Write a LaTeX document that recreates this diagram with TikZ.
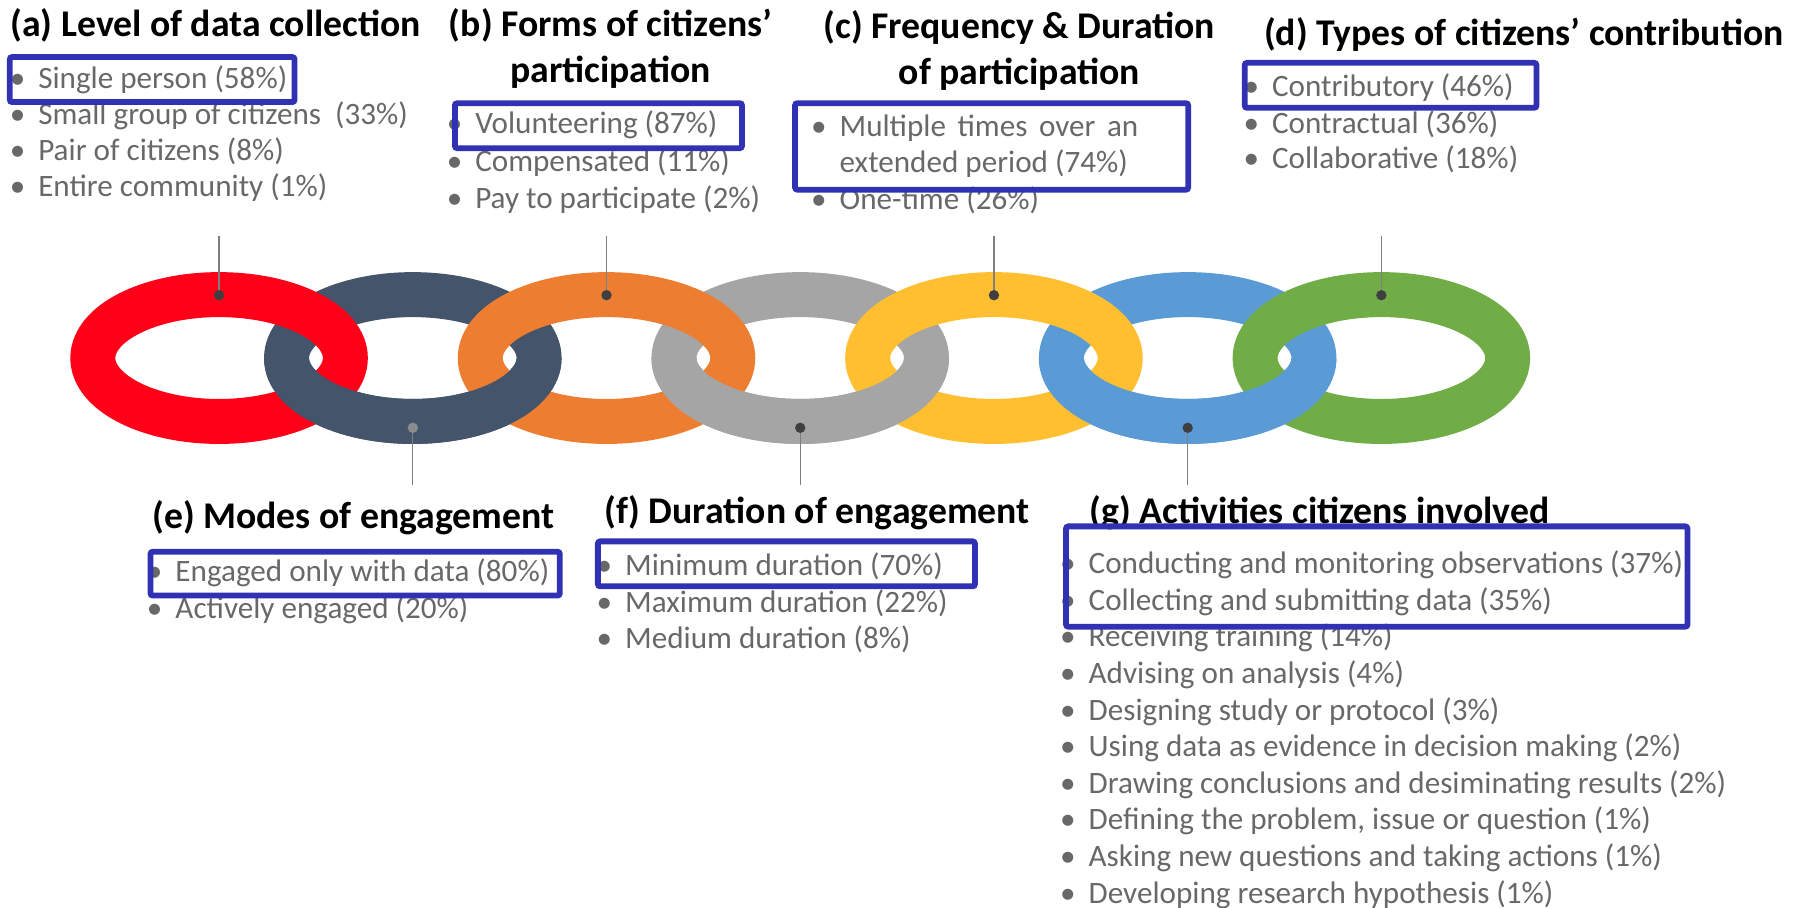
\documentclass[tikz,border=0pt]{standalone}
\usepackage{fontspec}
\setmainfont{Carlito}
\definecolor{ringred}{HTML}{FF0018}
\definecolor{ringslate}{HTML}{44546A}
\definecolor{ringorange}{HTML}{ED7D31}
\definecolor{ringgray}{HTML}{A5A5A5}
\definecolor{ringgold}{HTML}{FFBF31}
\definecolor{ringblue}{HTML}{5B9BD5}
\definecolor{ringgreen}{HTML}{70AD47}
\definecolor{boxblue}{HTML}{3131B3}
\definecolor{itemgray}{HTML}{686868}
\definecolor{pingray}{HTML}{7F7F7F}
\definecolor{dotdark}{HTML}{3F3F3F}
\definecolor{dotlight}{HTML}{8C8C8C}
\newcommand{\bul}{\llap{\makebox[36pt]{\textbullet}}}
\tikzset{
	link/.style={line width=39pt},
	ttl/.style={anchor=base west, inner sep=0pt, font=\fontsize{32.7}{40}\selectfont\bfseries},
	item/.style={anchor=base west, inner sep=0pt, text=itemgray, font=\fontsize{27}{32}\selectfont},
	hl/.style={draw=boxblue, line width=5pt, rounded corners=2pt},
	pin/.style={draw=pingray, line width=1.2pt},
	dot/.style={circle, inner sep=0pt, minimum size=9pt, fill=dotdark},
}

\begin{document}
\begin{tikzpicture}[x=1pt,y=-1pt]
	\useasboundingbox (0,0) rectangle (1568,787);
	% chain: lower links first, upper links over them, then lower halves again
	\draw [link, ringslate] (358,310.5) ellipse [x radius=109.5pt, y radius=55pt];
	\draw [link, ringgray] (694,310.5) ellipse [x radius=109.5pt, y radius=55pt];
	\draw [link, ringblue] (1030,310.5) ellipse [x radius=109.5pt, y radius=55pt];
	\draw [link, ringred] (190,310.5) ellipse [x radius=109.5pt, y radius=55pt];
	\draw [link, ringorange] (526,310.5) ellipse [x radius=109.5pt, y radius=55pt];
	\draw [link, ringgold] (862,310.5) ellipse [x radius=109.5pt, y radius=55pt];
	\draw [link, ringgreen] (1198,310.5) ellipse [x radius=109.5pt, y radius=55pt];
	\begin{scope}
		\clip (200,310.5) rectangle (1200,420);
		\draw [link, ringslate] (358,310.5) ellipse [x radius=109.5pt, y radius=55pt];
		\draw [link, ringgray] (694,310.5) ellipse [x radius=109.5pt, y radius=55pt];
		\draw [link, ringblue] (1030,310.5) ellipse [x radius=109.5pt, y radius=55pt];
	\end{scope}

	% pins
	\node [dot] (da) at (190,256) {};
	\node [dot] (dc) at (526,256) {};
	\node [dot] (dd) at (862,256) {};
	\node [dot] (dg) at (1198,256) {};
	\node [dot, fill=dotlight] (de) at (358,371) {};
	\node [dot] (df) at (694,371) {};
	\node [dot] (dh) at (1030,371) {};
	\coordinate (pa) at (190,205);
	\coordinate (pc) at (526,205);
	\coordinate (pd) at (862,205);
	\coordinate (pg) at (1198,205);
	\coordinate (pe) at (358,421);
	\coordinate (pf) at (694,421);
	\coordinate (ph) at (1030,421);
	\draw [pin] (pa) -- (da);
	\draw [pin] (pc) -- (dc);
	\draw [pin] (pd) -- (dd);
	\draw [pin] (pg) -- (dg);
	\draw [pin] (de) -- (pe);
	\draw [pin] (df) -- (pf);
	\draw [pin] (dh) -- (ph);

	% (a)
	\node [ttl] (ta) at (9,31.4) {(a) Level of data collection};
	\node [item] (a1) at (33,76.5) {\bul Single person (58\%)};
	\node [item] (a2) at (33,108) {\bul Small group of citizens\ \ (33\%)};
	\node [item] (a3) at (33,139.5) {\bul Pair of citizens (8\%)};
	\node [item] (a4) at (33,170.5) {\bul Entire community (1\%)};
	% (b)
	\node [ttl, anchor=base, align=center] (tb) at (529.5,71.4) {(b) Forms of citizens’\\ participation};
	\node [item] (b1) at (412,116) {\bul Volunteering (87\%)};
	\node [item] (b2) at (412,149) {\bul Compensated (11\%)};
	\node [item] (b3) at (412,180.5) {\bul Pay to participate (2\%)};
	% (c)
	\node [ttl, anchor=base, align=center] (tc) at (884,73.4) {(c) Frequency \& Duration\\ of participation};
	\node [item] (c1) at (728,118.5) {\bul\makebox[259pt][s]{Multiple times over an}};
	\node [item] (c2) at (728,150) {extended period (74\%)};
	\node [item] (c3) at (728,182) {\bul One-time (26\%)};
	% (d)
	\node [ttl] (td) at (1096,39.4) {(d) Types of citizens’ contribution};
	\node [item] (d1) at (1103,84) {\bul Contributory (46\%)};
	\node [item] (d2) at (1103,116) {\bul Contractual (36\%)};
	\node [item] (d3) at (1103,146.5) {\bul Collaborative (18\%)};
	% (e)
	\node [ttl] (te) at (132,458.4) {(e) Modes of engagement};
	\node [item] (e1) at (152,504.5) {\bul Engaged only with data (80\%)};
	\node [item] (e2) at (152,536) {\bul Actively engaged (20\%)};
	% (f)
	\node [ttl] (tf) at (524,454.4) {(f) Duration of engagement};
	\node [item] (f1) at (542,499.5) {\bul Minimum duration (70\%)};
	\node [item] (f2) at (542,531.5) {\bul Maximum duration (22\%)};
	\node [item] (f3) at (542,562) {\bul Medium duration (8\%)};
	% (g)
	\node [ttl] (tg) at (945,454.4) {(g) Activities citizens involved};
	\node [item] (g1) at (944,497.5) {\bul Conducting and monitoring observations (37\%)};
	\node [item] (g2) at (944,529.25) {\bul Collecting and submitting data (35\%)};
	\node [item] (g3) at (944,561) {\bul Receiving training (14\%)};
	\node [item] (g4) at (944,592.75) {\bul Advising on analysis (4\%)};
	\node [item] (g5) at (944,624.5) {\bul Designing study or protocol (3\%)};
	\node [item] (g6) at (944,656.25) {\bul Using data as evidence in decision making (2\%)};
	\node [item] (g7) at (944,688) {\bul Drawing conclusions and desiminating results (2\%)};
	\node [item] (g8) at (944,719.75) {\bul Defining the problem, issue or question (1\%)};
	\node [item] (g9) at (944,751.5) {\bul Asking new questions and taking actions (1\%)};
	\node [item] (g10) at (944,783.25) {\bul Developing research hypothesis (1\%)};

	% highlights
	\draw [hl] (8.5,49.5) rectangle (255.5,88.5);
	\draw [hl] (394.5,89.5) rectangle (643.5,128.5);
	\draw [hl] (689.5,89.5) rectangle (1030.5,164.5);
	\draw [hl] (1079.5,54.5) rectangle (1332.5,93.5);
	\draw [hl] (130.5,478.5) rectangle (485.5,516.5);
	\draw [hl] (518.5,469.5) rectangle (845.5,508.5);
	\draw [hl] (924.5,456.5) rectangle (1463.5,543.5);
\end{tikzpicture}
\end{document}
